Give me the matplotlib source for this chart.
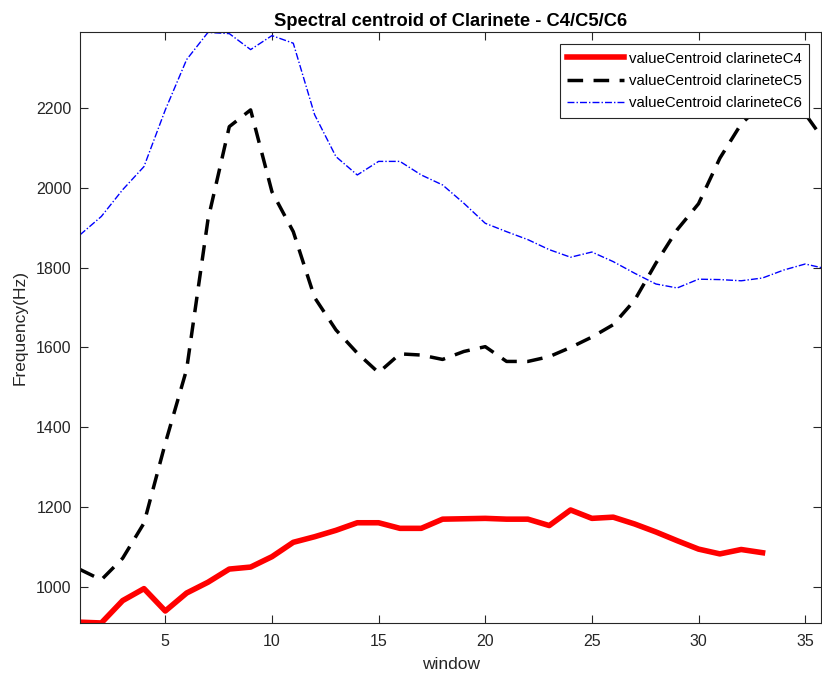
import matplotlib.pyplot as plt

# spectral centroid per window (Hz)
window_c4 = list(range(1, 34))
centroid_c4 = [912, 910, 966, 996, 940, 985, 1012, 1045, 1050, 1076, 1112, 1126,
               1142, 1161, 1161, 1147, 1147, 1170, 1171, 1172, 1170, 1170, 1154,
               1193, 1172, 1175, 1158, 1138, 1116, 1095, 1083, 1094, 1086]

window_c5 = list(range(1, 37))
centroid_c5 = [1044, 1018, 1072, 1160, 1360, 1545, 1920, 2153, 2195, 1990, 1890,
               1725, 1644, 1586, 1537, 1584, 1581, 1570, 1590, 1602, 1565, 1565,
               1577, 1600, 1626, 1657, 1718, 1811, 1895, 1960, 2074, 2160, 2210,
               2230, 2185, 2110]

window_c6 = list(range(1, 37))
centroid_c6 = [1882, 1928, 1995, 2053, 2195, 2321, 2389, 2386, 2346, 2381, 2362,
               2183, 2078, 2032, 2066, 2066, 2032, 2007, 1961, 1911, 1890, 1870,
               1845, 1826, 1839, 1815, 1786, 1759, 1749, 1771, 1770, 1767, 1774,
               1794, 1809, 1797]

labels = ['valueCentroid clarineteC4', 'valueCentroid clarineteC5',
          'valueCentroid clarineteC6']

plt.rcParams['font.family'] = ['Liberation Sans', 'DejaVu Sans']
dark = '#262626'

fig = plt.figure(figsize=(8.22, 6.77), dpi=100)
ax = fig.add_axes([0.0973, 0.0798, 0.9017, 0.8729])

ax.plot(window_c4, centroid_c4, color='#ff0000', linewidth=4, label=labels[0])
ax.plot(window_c5, centroid_c5, color='black', linewidth=2.5,
        linestyle=(0, (4.5, 3)), label=labels[1])
ax.plot(window_c6, centroid_c6, color='#0000ff', linewidth=1,
        linestyle=(0, (5, 1.5, 1, 1.5)), label=labels[2])

ax.set_xlim(1, 35.75)
ax.set_ylim(910, 2390)
ax.set_xticks([5, 10, 15, 20, 25, 30, 35])
ax.set_yticks([1000, 1200, 1400, 1600, 1800, 2000, 2200])

ax.tick_params(direction='in', length=5.5, width=0.8, colors=dark,
               labelsize=11.5, top=True, right=True)
ax.tick_params(axis='x', pad=8)
ax.tick_params(axis='y', pad=6)
for s in ax.spines.values():
    s.set_color(dark)
    s.set_linewidth(0.8)

ax.set_xlabel('window', fontsize=12.5, color=dark, labelpad=6)
ax.set_ylabel('Frequency(Hz)', fontsize=12.5, color=dark, labelpad=6)
ax.set_title('Spectral centroid of Clarinete - C4/C5/C6', fontsize=13.2,
             fontweight='bold', pad=4)

leg = ax.legend(loc='upper right', fontsize=10.8, fancybox=False,
                framealpha=1, edgecolor=dark, handlelength=3.8,
                borderaxespad=0.8, labelspacing=0.55, handletextpad=0.3,
                borderpad=0.5)
leg.get_frame().set_linewidth(0.8)

fig.savefig('out.png', dpi=100)
